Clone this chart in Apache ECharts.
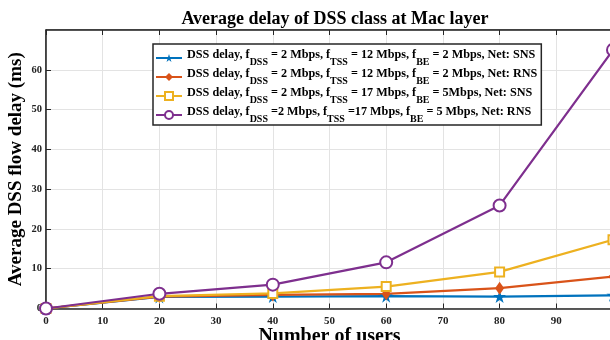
<!DOCTYPE html>
<html><head><meta charset="utf-8">
<script src="https://cdn.jsdelivr.net/npm/echarts@6/dist/echarts.min.js"></script>
<style>html,body{margin:0;padding:0;background:#fff}#c{width:610px;height:340px}</style>
</head><body><div id="c"></div>
<script>
const users = [0, 20, 40, 60, 80, 100];
const snsLow = [0, 2.9, 3.0, 3.1, 3.0, 3.3];
const rnsLow = [0, 3.0, 3.4, 3.7, 5.1, 8.0];
const snsHigh = [0, 3.1, 3.8, 5.5, 9.2, 17.3];
const rnsHigh = [0, 3.7, 6.0, 11.6, 25.9, 65.0];
const seriesNames = ['s1', 's2', 's3', 's4'];
const legendTexts = {
  s1: 'DSS delay, f{sub|DSS} = 2 Mbps, f{sub|TSS} = 12 Mbps, f{sub|BE} = 2 Mbps, Net: SNS',
  s2: 'DSS delay, f{sub|DSS} = 2 Mbps, f{sub|TSS} = 12 Mbps, f{sub|BE} = 2 Mbps, Net: RNS',
  s3: 'DSS delay, f{sub|DSS} = 2 Mbps, f{sub|TSS} = 17 Mbps, f{sub|BE} = 5Mbps, Net: SNS',
  s4: 'DSS delay, f{sub|DSS} =2 Mbps, f{sub|TSS} =17 Mbps, f{sub|BE} = 5 Mbps, Net: RNS'
};
const F = '"Liberation Serif", "DejaVu Serif", serif';
const star = 'path://M50,0 L61.8,35.3 L100,35.3 L69.1,57.1 L80.9,92.7 L50,70.6 L19.1,92.7 L30.9,57.1 L0,35.3 L38.2,35.3 Z';
function pairs(v){ return users.map((u,i)=>[u, v[i]]); }
const chart = echarts.init(document.getElementById('c'));
chart.setOption({
  animation: false,
  title: { text: 'Average delay of DSS class at Mac layer', left: 330, textAlign: 'center', top: 5,
    textStyle: { fontFamily: F, fontWeight: 'bold', fontSize: 18, color: '#000' } },
  grid: { left: 46, right: -3, top: 30, bottom: 31.5, containLabel: false, outerBoundsMode: 'none',
    show: true, borderColor: '#262626', borderWidth: 1 },
  legend: {
    orient: 'vertical', left: 153, top: 44, data: seriesNames,
    backgroundColor: '#fff', borderColor: '#262626', borderWidth: 1.5,
    padding: [5, 4, 1, 2], itemGap: 1, itemWidth: 26, itemHeight: 10,
    formatter: n => '{m|' + legendTexts[n].replace(/\{sub\|([A-Z]+)\}/g, '}{sub|$1}{m|') + '}',
    textStyle: {
      fontFamily: F, fontWeight: 'bold', fontSize: 12, color: '#000',
      rich: {
        m: { fontFamily: F, fontWeight: 'bold', fontSize: 12.2, color: '#000', lineHeight: 18, verticalAlign: 'top' },
        sub: { fontFamily: F, fontWeight: 'bold', fontSize: 10, color: '#000', lineHeight: 18, verticalAlign: 'bottom' }
      }
    }
  },
  xAxis: [{
    type: 'value', min: 0, max: 100, interval: 10,
    name: 'Number of users', nameLocation: 'middle', nameGap: 18, nameMoveOverlap: false,
    nameTextStyle: { fontFamily: F, fontWeight: 'bold', fontSize: 20, color: '#000' },
    axisLine: { lineStyle: { color: '#262626', width: 1.5 } },
    axisTick: { inside: true, length: 5, lineStyle: { color: '#262626' } },
    axisLabel: { fontFamily: F, fontWeight: 'bold', fontSize: 11, color: '#222', margin: 7, showMaxLabel: false },
    splitLine: { show: true, lineStyle: { color: '#e3e3e3' } }
  }, {
    type: 'value', position: 'top', min: 0, max: 100, interval: 10,
    axisLine: { lineStyle: { color: '#262626', width: 1.5 } },
    axisTick: { inside: true, length: 5, lineStyle: { color: '#262626' } },
    axisLabel: { show: false }, splitLine: { show: false }
  }],
  yAxis: [{
    type: 'value', min: 0, max: 70, interval: 10,
    name: 'Average DSS flow delay (ms)', nameLocation: 'middle', nameGap: 20, nameMoveOverlap: false,
    nameTextStyle: { fontFamily: F, fontWeight: 'bold', fontSize: 19, color: '#000' },
    axisLine: { show: true, lineStyle: { color: '#262626', width: 1.5 } },
    axisTick: { show: true, inside: true, length: 5, lineStyle: { color: '#262626' } },
    axisLabel: { fontFamily: F, fontWeight: 'bold', fontSize: 10.5, color: '#222', margin: 4, showMaxLabel: false },
    splitLine: { show: true, lineStyle: { color: '#e3e3e3' } }
  }],
  series: [
    { name: 's1', type: 'line', data: pairs(snsLow), color: '#0072BD', symbol: star, symbolSize: 13,
      lineStyle: { width: 2.2 }, itemStyle: { color: '#0072BD' } },
    { name: 's2', type: 'line', data: pairs(rnsLow), color: '#D95319', symbol: 'diamond', symbolSize: [9, 13],
      lineStyle: { width: 2.2 }, itemStyle: { color: '#D95319' } },
    { name: 's3', type: 'line', data: pairs(snsHigh), color: '#EDB120', symbol: 'emptyRect', symbolSize: 9,
      lineStyle: { width: 2.2 }, itemStyle: { color: '#EDB120', borderWidth: 1.5 } },
    { name: 's4', type: 'line', data: pairs(rnsHigh), color: '#7E2F8E', symbol: 'emptyCircle', symbolSize: 12,
      lineStyle: { width: 2.2 }, itemStyle: { color: '#7E2F8E', borderWidth: 2 } }
  ]
});
</script></body></html>
